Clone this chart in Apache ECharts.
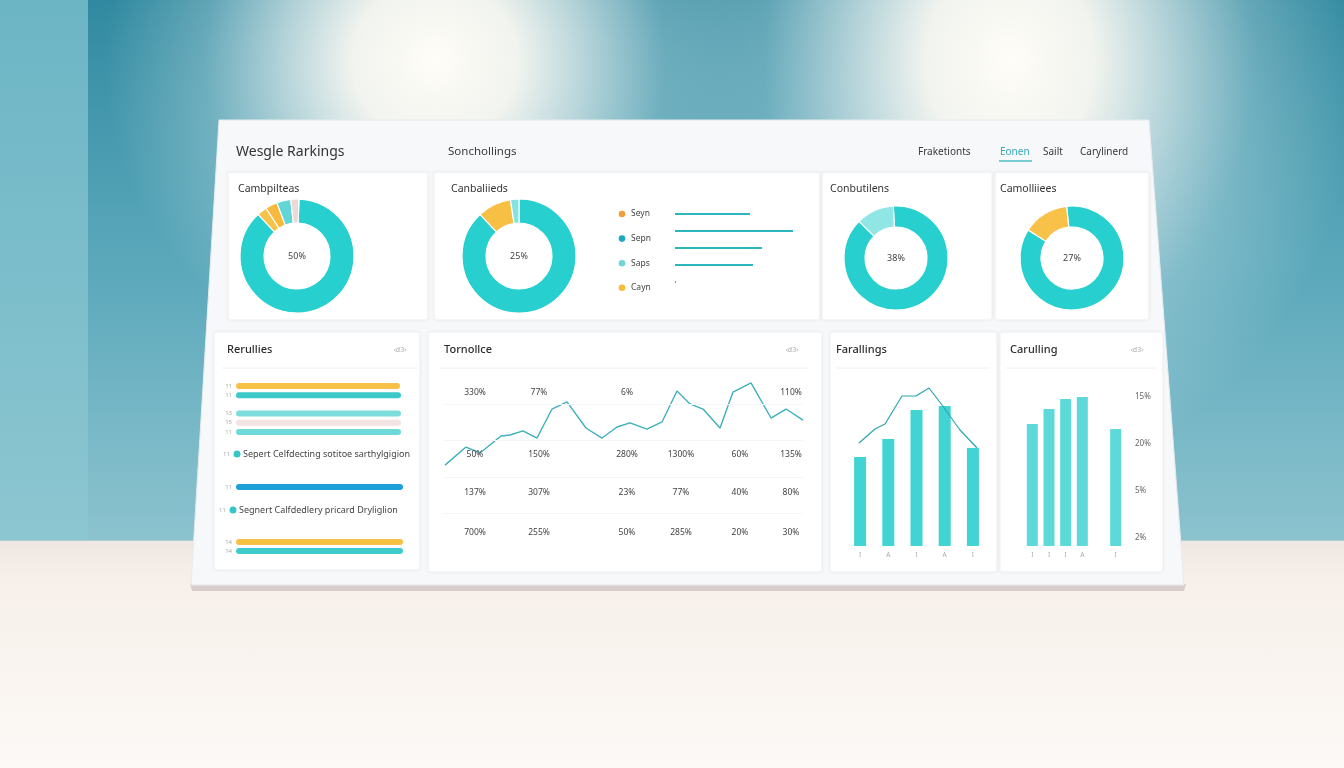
<!DOCTYPE html>
<html>
<head>
<meta charset="utf-8">
<script src="https://cdn.jsdelivr.net/npm/echarts@6.0.0/dist/echarts.min.js"></script>
<style>
html,body{margin:0;padding:0;width:1344px;height:768px;overflow:hidden;}
body{
  background:
    radial-gradient(ellipse 330px 320px at 435px 60px, rgba(255,253,247,1) 0%, rgba(255,251,244,0.93) 25%, rgba(236,242,240,0.7) 45%, rgba(215,233,235,0.3) 70%, rgba(210,230,233,0) 100%),
    radial-gradient(ellipse 350px 420px at 1010px 60px, rgba(255,253,247,1) 0%, rgba(255,251,244,0.93) 24%, rgba(236,242,240,0.7) 44%, rgba(215,233,235,0.3) 70%, rgba(210,230,233,0) 100%),
    linear-gradient(to bottom, rgba(170,210,218,0) 0px, rgba(170,210,218,0.2) 300px, rgba(190,220,226,0.45) 540px, rgba(0,0,0,0) 541px),
    linear-gradient(to bottom, #3089a0 0px, #4a9fb4 260px, #62adbe 540px, #efe7e1 541px, #f7f0ea 580px, #fcf9f6 768px);
}
#wallL{position:absolute;left:0;top:0;width:88px;height:540px;background:linear-gradient(to bottom,#6cb5c5,#8cc6d1);}
#chart{position:absolute;left:0;top:0;width:1344px;height:768px;}
</style>
</head>
<body>
<div id="wallL"></div>
<div id="chart"></div>
<script>
// ---------- data ----------
const headerTitle = "Wesgle Rarkings";
const headerSub = "Sonchollings";
const navItems = ["Fraketionts", "Eonen", "Sailt", "Carylinerd"];
const donutTitles = ["Cambpilteas", "Canbaliieds", "Conbutilens", "Camolliiees"];
const donutCenters = ["50%", "25%", "38%", "27%"];
const donut1 = [87.5, 2.8, 3.4, 4.0, 2.3];
const donut2 = [88, 9.6, 2.4];
const donut3 = [88.3, 11.7];
const donut4 = [85.7, 14.3];
const legendNames = ["Seyn", "Sepn", "Saps", "Cayn"];
const legendLines = [75, 118, 87, 78, 1];

const cardTitles = ["Rerullies", "Tornollce", "Farallings", "Carulling"];
const slotLabels = ["11","11","","13","15","11","","","","","","11","","","","","","14","14"];
const slotValues = [164,165,null,165,165,165,null,null,null,null,null,167,null,null,null,null,null,167,167];
const rowTexts = ["Sepert Celfdecting sotitoe sarthylgigion", "Segnert Calfdedlery pricard Dryliglion"];

const lineX = [1,22,36,57,66,79,93,108,123,142,158,173,186,203,218,233,246,259,276,289,307,327,342,359];
const lineY = [33,45.5,41.4,53.1,53.8,56.6,51.7,71.7,76.6,58.6,51.7,59.3,62.1,57.9,62.8,84.1,75.2,71.7,58.6,83.4,89.7,65.5,71.7,64.1];
const tableLabels = [
  ["330%","77%","6%","","","110%"],
  ["50%","150%","280%","1300%","60%","135%"],
  ["137%","307%","23%","77%","40%","80%"],
  ["700%","255%","50%","285%","20%","30%"]
];

const cCats = ["I","A","I","A","I"];
const cBars = [89,107,136,140,98];
const cLineX = [13,29,39,56,70,83,96,114,131];
const cLineY = [103,117,122,150,150,158,141,116,98];

const dCats = ["I","I","I","A","","I"];
const dBars = [122,137,147,149,null,117];
const dTicks = ["2%","5%","20%","15%"];

// ---------- styles ----------
const TEAL = '#27cfcf';
const FONT = 'Noto Sans';
const donut1Colors = [TEAL,'#f7c24c','#f6b93d','#62d6d6','#ead9d5'];
const donut2Colors = [TEAL,'#f8bf45','#84e2e2'];
const donut3Colors = [TEAL,'#8fe6e4'];
const donut4Colors = [TEAL,'#f8c148'];
const legendColors = ['#ef9f3a','#1fa7c4','#6dd5d5','#f6bd3a'];
const slotColors = ['#f7c046','#3cc9c9',null,'#7ddddd','#f3e3e3','#6fd8d8',null,null,null,null,null,'#1d9fd8',null,null,null,null,null,'#f6c043','#40cbcb'];

const chart = echarts.init(document.getElementById('chart'), null, {renderer:'canvas'});

function txt(x,y,text,size,color,opts){
  return {type:'text', x:x, y:y, z:20, style:Object.assign({text:text, fontSize:size, fill:color, fontFamily:FONT, verticalAlign:'middle'}, opts||{})};
}
function card(x,y,w,h){
  return {type:'rect', z:1, shape:{x:x,y:y,width:w,height:h,r:2}, style:{fill:'#ffffff', stroke:'#eceff1', lineWidth:1, shadowBlur:4, shadowColor:'rgba(0,0,0,0.04)'}};
}

const graphics = [
  {type:'polygon', z:0, shape:{points:[[190,584],[1186,584],[1184,591],[192,591]]}, style:{fill:'#d8cdcc'}},
  {type:'polygon', z:0, shape:{points:[[219,120],[1149,120],[1184,585],[191,585]]}, style:{fill:'#f6f8f9', stroke:'#e6eaec', lineWidth:1}},
  card(228,172,200,148), card(434,172,386,148), card(822,172,170,148), card(995,172,154,148),
  card(214,332,206,238), card(428,332,394,240), card(830,332,167,240), card(1000,332,163,240),
  {type:'line', z:2, shape:{x1:226,y1:172,x2:1150,y2:172}, style:{stroke:'#eef1f2', lineWidth:1}},
  {type:'line', z:2, shape:{x1:222,y1:368,x2:418,y2:368}, style:{stroke:'#eef1f2', lineWidth:1}},
  {type:'line', z:2, shape:{x1:440,y1:368,x2:808,y2:368}, style:{stroke:'#eef1f2', lineWidth:1}},
  {type:'line', z:2, shape:{x1:836,y1:368,x2:990,y2:368}, style:{stroke:'#eef1f2', lineWidth:1}},
  {type:'line', z:2, shape:{x1:1006,y1:368,x2:1156,y2:368}, style:{stroke:'#eef1f2', lineWidth:1}},
  txt(236,152,headerTitle,14,'#333'),
  txt(448,152,headerSub,11.5,'#3a3a3a'),
  {type:'line', z:20, shape:{x1:999,y1:161,x2:1032,y2:161}, style:{stroke:'#4fc0c8', lineWidth:1.5}}
];
const navX = [918,1000,1043,1080];
navItems.forEach((n,i)=>graphics.push(txt(navX[i],152,n,10,i===1?'#3aa9b8':'#3a3a3a')));
const dtX = [238,451,830,1000];
donutTitles.forEach((t,i)=>graphics.push(txt(dtX[i],189,t,10.5,'#333')));
const dcX = [297,519,896,1072], dcY = [256,256,258,258];
donutCenters.forEach((t,i)=>graphics.push(txt(dcX[i],dcY[i],t,9,'#444',{align:'center'})));
legendNames.forEach((n,i)=>{
  const y = 214 + i*24.6;
  graphics.push({type:'circle', z:20, shape:{cx:622,cy:y,r:3.3}, style:{fill:legendColors[i]}});
  graphics.push(txt(631,y,n,8.5,'#444'));
});
const ctX = [227,444,836,1010];
cardTitles.forEach((t,i)=>graphics.push(txt(ctX[i],350,t,11,'#2e2e2e',{fontWeight:500})));
[[400,350],[792,350],[1137,350]].forEach(p=>graphics.push(txt(p[0],p[1],'‹d3›',7,'#aaa',{align:'center'})));
const rowY = [454,510], rowDotX = [237,233];
rowTexts.forEach((t,i)=>{
  graphics.push(txt(rowDotX[i]-14,rowY[i],'11',6,'#aaa'));
  graphics.push({type:'circle', z:20, shape:{cx:rowDotX[i],cy:rowY[i],r:3.5}, style:{fill:'#35c4c8'}});
  graphics.push(txt(rowDotX[i]+6,rowY[i],t,9,'#444'));
});
const tabCols = [475,539,627,681,740,791], tabRows = [393,455,493,533];
tableLabels.forEach((row,r)=>row.forEach((t,c)=>{ if(t) graphics.push(txt(tabCols[c],tabRows[r],t,8.5,'#444',{align:'center'})); }));

function pie(center, r, values, colors, start){
  return {type:'pie', center:center, radius:r, startAngle:start, clockwise:true, silent:true, z:5,
    label:{show:false}, labelLine:{show:false}, emphasis:{disabled:true},
    itemStyle:{borderColor:'#fff', borderWidth:1.2},
    data: values.map((v,i)=>({value:v, itemStyle:{color:colors[i]}}))};
}

const AZ = 6;
const option = {
  animation:false,
  backgroundColor:'transparent',
  textStyle:{fontFamily:FONT},
  graphic: graphics,
  grid:[
    {left:236, top:381.5, width:170, height:174.2},
    {left:444, top:368, width:359, height:145},
    {left:846, top:380, width:141, height:166},
    {left:1024, top:386, width:100, height:160},
    {left:1024, top:397, width:100, height:141},
    {left:675, top:205.5, width:130, height:85}
  ],
  xAxis:[
    {gridIndex:0, type:'value', min:0, max:170, show:false},
    {gridIndex:1, type:'value', min:0, max:359, show:false},
    {gridIndex:2, z:AZ, type:'category', data:cCats, axisLine:{show:false}, axisTick:{show:false}, axisLabel:{fontSize:6.5, color:'#aaa', margin:6}},
    {gridIndex:2, type:'value', min:0, max:141, show:false},
    {gridIndex:3, z:AZ, type:'category', data:dCats, axisLine:{show:false}, axisTick:{show:false}, axisLabel:{fontSize:6.5, color:'#aaa', margin:6, interval:0}},
    {gridIndex:4, type:'value', min:0, max:1, axisLine:{show:false}, axisTick:{show:false}, axisLabel:{show:false}, splitLine:{show:false}},
    {gridIndex:5, type:'value', min:0, max:130, show:false}
  ],
  yAxis:[
    {gridIndex:0, z:AZ, type:'category', inverse:true, data:slotLabels, axisLine:{show:false}, axisTick:{show:false}, axisLabel:{fontSize:6, color:'#aaa', margin:4, interval:0}},
    {gridIndex:1, z:AZ, type:'value', min:0, max:100, interval:25, axisLabel:{show:false}, axisLine:{show:false}, axisTick:{show:false}, splitLine:{lineStyle:{color:'#f3f5f6'}}},
    {gridIndex:2, type:'value', min:0, max:166, show:false},
    {gridIndex:3, type:'value', min:0, max:160, show:false},
    {gridIndex:4, z:AZ, type:'category', data:dTicks, boundaryGap:false, position:'right', axisLine:{show:false}, axisTick:{show:false}, splitLine:{show:false},
      axisLabel:{show:true, fontSize:8, color:'#666', margin:11, interval:0}},
    {gridIndex:5, type:'category', inverse:true, data:legendLines.map((_,i)=>String(i)), show:false}
  ],
  series:[
    pie([297,256],[33,57],donut1,donut1Colors,88),
    pie([519,256],[33,57],donut2,donut2Colors,90),
    pie([896,258],[31,52],donut3,donut3Colors,93),
    pie([1072,258],[31,52],donut4,donut4Colors,96),
    {type:'bar', xAxisIndex:0, yAxisIndex:0, barWidth:6, silent:true, z:5,
      itemStyle:{borderRadius:3},
      data: slotValues.map((v,i)=> v==null ? null : {value:v, itemStyle:{color:slotColors[i]}})},
    {type:'line', xAxisIndex:1, yAxisIndex:1, symbol:'none', silent:true, z:5,
      lineStyle:{color:'#3db0ba', width:1.4},
      data: lineX.map((x,i)=>[x,lineY[i]])},
    {type:'bar', xAxisIndex:2, yAxisIndex:2, barWidth:12, silent:true, z:5,
      itemStyle:{color:'#42d3d3'}, data:cBars},
    {type:'line', xAxisIndex:3, yAxisIndex:2, symbol:'none', silent:true, z:6,
      lineStyle:{color:'#2ba6ae', width:1.2},
      data: cLineX.map((x,i)=>[x,cLineY[i]])},
    {type:'bar', xAxisIndex:4, yAxisIndex:3, barWidth:11, silent:true, z:5,
      itemStyle:{color:'#5ed9d9'}, data:dBars},
    {type:'scatter', xAxisIndex:5, yAxisIndex:4, silent:true, symbolSize:0.01, itemStyle:{opacity:0},
      data: dTicks.map(t=>[0,t])},
    {type:'bar', xAxisIndex:6, yAxisIndex:5, barWidth:2, silent:true, z:5,
      itemStyle:{color:'#2db6c0'}, data:legendLines}
  ]
};
chart.setOption(option);
</script>
</body>
</html>
